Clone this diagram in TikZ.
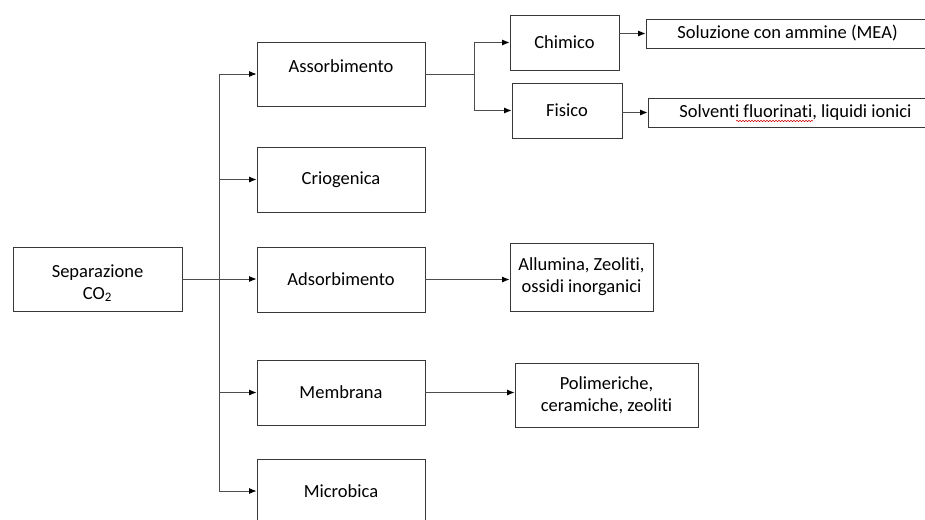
\documentclass[tikz,border=0pt]{standalone}
\usepackage{fontspec}
\setmainfont{Carlito}[Ligatures={NoCommon}]
\usetikzlibrary{arrows.meta,decorations.pathmorphing}
\begin{document}
\begin{tikzpicture}[x=1pt,y=-1pt,
  font=\fontsize{18.5}{22}\selectfont,
  box/.style={draw=black!78,line width=0.9pt,rectangle,inner sep=0pt,align=center},
  ln/.style={draw=black!70,line width=0.85pt},
  arr/.style={ln,-{Latex[length=7.5pt,width=6pt,color=black]}}]
\useasboundingbox (0,0) rectangle (925,519);
\clip (0,0) rectangle (925,519);
\fill[white] (0,0) rectangle (925,519);
% boxes
\node[box,minimum width=169pt,minimum height=64pt] (sep) at (97.5,279) {};
\node[align=center] (sept) at (97.5,283) {Separazione\\CO\textsubscript{2}};
\node[box,minimum width=168pt,minimum height=64pt] (ass) at (341,74) {};
\node (asst) at (341,66) {Assorbimento};
\node[box,minimum width=168pt,minimum height=65pt] (crio) at (341,179.5) {Criogenica};
\node[box,minimum width=168pt,minimum height=65pt] (ads) at (341,279.5) {Adsorbimento};
\node[box,minimum width=168pt,minimum height=65pt] (mem) at (341,392.5) {Membrana};
\node[box,minimum width=168pt,minimum height=64pt] (mic) at (341,491) {Microbica};
\node[box,minimum width=109pt,minimum height=55pt] (chim) at (564.5,42.5) {Chimico};
\node[box,minimum width=110pt,minimum height=55pt] (fis) at (567,110.5) {Fisico};
\node[box,minimum width=283pt,minimum height=29pt] (sol) at (787.5,33.5) {Soluzione con ammine (MEA)};
\node[box,minimum width=295pt,minimum height=29pt] (solv) at (795.5,112.5) {Solventi fluorinati, liquidi ionici};
\node[box,minimum width=143pt,minimum height=68pt] (all) at (581.5,277) {Allumina, Zeoliti,\\ossidi inorganici};
\node[box,minimum width=183pt,minimum height=64pt] (pol) at (606.5,395) {Polimeriche,\\ceramiche, zeoliti};
% spell-check underline
\draw[red!80!black,line width=0.5pt,decorate,decoration={snake,amplitude=0.7pt,segment length=3pt}] (736,121) -- (813,121);
% connectors
\coordinate (tt) at (219,74);
\coordinate (tb) at (219,491);
\draw[ln] (tt) -- (tb);
\draw[arr] (sep.east) -- (sep.east -| ads.west);
\draw[arr] (tt) -- (ass.west);
\draw[arr] (tt |- crio.west) -- (crio.west);
\draw[arr] (tt |- mem.west) -- (mem.west);
\draw[arr] (tt |- mic.west) -- (mic.west);
\coordinate (br) at (474,74);
\draw[ln] (ass.east) -- (br);
\draw[ln] (br |- chim.west) -- (br |- fis.west);
\draw[arr] (br |- chim.west) -- (chim.west);
\draw[arr] (br |- fis.west) -- (fis.west);
\draw[arr] (chim.east |- sol.west) -- (sol.west);
\draw[arr] (fis.east |- solv.west) -- (solv.west);
\draw[arr] (ads.east) -- (ads.east -| all.west);
\draw[arr] (mem.east) -- (mem.east -| pol.west);
\end{tikzpicture}
\end{document}
